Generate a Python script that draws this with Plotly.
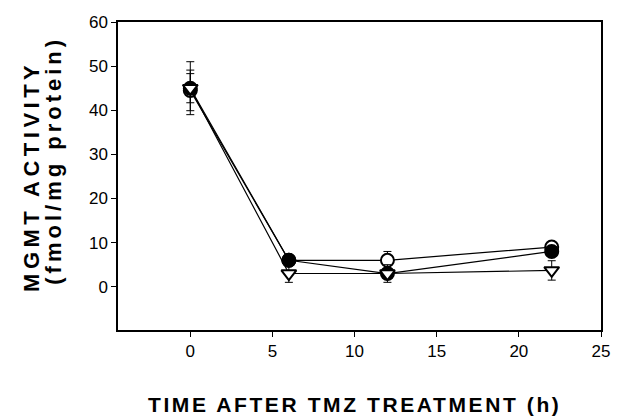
import plotly.graph_objects as go

# time points (h)
time_h = [0, 6, 12, 22]

# series values (fmol/mg protein) and error bars
open_circle = [44.5, 6, 6, 9]
open_circle_err = [4.6, 1, 2, 1]
filled_circle = [45, 6, 3, 8]
filled_circle_err = [6, 1, 1, 1]
open_triangle = [45, 3, 3, 3.7]
open_triangle_err = [3.3, 2, 2, 2.2]

x_ticks = [0, 5, 10, 15, 20, 25]
y_ticks = [0, 10, 20, 30, 40, 50, 60]

FONT = "Liberation Sans, Arial, sans-serif"

fig = go.Figure()

def add(y, err, symbol, fill):
    fig.add_trace(go.Scatter(
        x=time_h, y=y, mode="lines+markers",
        line=dict(color="black", width=1.2),
        marker=dict(symbol=symbol, size=13, color=fill,
                    line=dict(color="black", width=2)),
        error_y=dict(type="data", array=err, visible=True,
                     color="black", thickness=1, width=4),
        showlegend=False, cliponaxis=False,
    ))

add(open_circle, open_circle_err, "circle", "white")
add(filled_circle, filled_circle_err, "circle", "black")
add(open_triangle, open_triangle_err, "triangle-down", "white")

fig.update_layout(
    width=619, height=417,
    margin=dict(l=118, r=9, t=22, b=87),
    plot_bgcolor="white", paper_bgcolor="white",
    font=dict(family=FONT, size=17, color="black"),
    xaxis=dict(range=[-4.4, 25], tickvals=x_ticks, ticks="outside",
               ticklen=5, tickwidth=1, tickcolor="black",
               showline=True, linecolor="black", linewidth=1.5,
               mirror=True, showgrid=False, zeroline=False),
    yaxis=dict(range=[-9.8, 60], tickvals=y_ticks, ticks="outside",
               ticklen=5, tickwidth=1, tickcolor="black",
               showline=True, linecolor="black", linewidth=1.5,
               mirror=True, showgrid=False, zeroline=False),
    annotations=[
        dict(text='<span style="letter-spacing:2.6px">TIME AFTER TMZ TREATMENT (h)</span>',
             xref="paper", yref="paper", x=0.49, y=-0.243,
             xanchor="center", yanchor="middle", showarrow=False,
             font=dict(family=FONT, size=21, color="black", weight="bold")),
        dict(text='<span style="letter-spacing:4.5px">MGMT ACTIVITY</span>',
             xref="paper", yref="paper", x=-0.178, y=0.497, textangle=-90,
             xanchor="center", yanchor="middle", showarrow=False,
             font=dict(family=FONT, size=22, color="black", weight="bold")),
        dict(text='<span style="letter-spacing:4px">(fmol/mg protein)</span>',
             xref="paper", yref="paper", x=-0.133, y=0.552, textangle=-90,
             xanchor="center", yanchor="middle", showarrow=False,
             font=dict(family=FONT, size=22, color="black", weight="bold")),
    ],
)

fig.write_html("out.html", config={"displayModeBar": False},
               post_script="document.body.style.margin='0';")
